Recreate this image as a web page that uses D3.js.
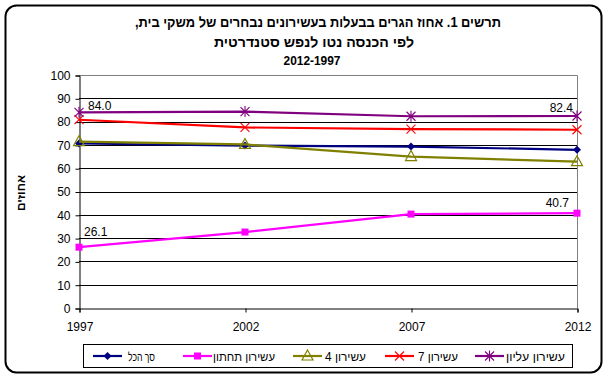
<!DOCTYPE html>
<html>
<head>
<meta charset="utf-8">
<script src="https://cdn.jsdelivr.net/npm/d3@7"></script>
<style>
  body { margin: 0; background: #fff; }
  svg { display: block; font-family: "Liberation Sans", Arial, "DejaVu Sans", sans-serif; }
</style>
</head>
<body>
<svg id="chart" width="609" height="381"></svg>
<script>
// נתונים - אחוז הגרים בבעלות
var years = [1997, 2002, 2007, 2012];
var seriesNames = ["סך הכל", "עשירון תחתון", "עשירון 4", "עשירון 7", "עשירון עליון"];
var total = [70.6, 69.7, 69.3, 67.9];
var bottomDecile = [26.1, 32.6, 40.3, 40.7];
var decile4 = [71.4, 70.2, 65.0, 62.8];
var decile7 = [80.8, 77.5, 76.8, 76.5];
var topDecile = [84.0, 84.3, 82.3, 82.4];
var yTicks = [0, 10, 20, 30, 40, 50, 60, 70, 80, 90, 100];
var titleLines = ["תרשים 1. אחוז הגרים בבעלות בעשירונים נבחרים של משקי בית,", "לפי הכנסה נטו לנפש סטנדרטית", "2012-1997"];
var yLabel = "אחוזים";

var seriesValues = [total, bottomDecile, decile4, decile7, topDecile];
var colors = ["#000080", "#ff00ff", "#808000", "#ff0000", "#800080"];
var markers = ["diamond", "square", "triangle", "x", "star"];

var svg = d3.select("#chart");

// מסגרת
svg.append("rect")
  .attr("x", 5.5).attr("y", 5.5)
  .attr("width", 596).attr("height", 367)
  .attr("rx", 11)
  .attr("fill", "#fff")
  .attr("stroke", "#000")
  .attr("stroke-width", 2);

// כותרת
var titleX = [318, 314, 312];
var titleY = [27, 47, 65];
var titleSize = [14, 14, 12];
var titleWidth = [366, 200, 57];
titleLines.forEach(function (t, i) {
  svg.append("text")
    .attr("x", titleX[i]).attr("y", titleY[i])
    .attr("direction", "rtl")
    .attr("text-anchor", "middle")
    .attr("font-weight", "bold")
    .attr("font-size", titleSize[i])
    .attr("textLength", titleWidth[i])
    .attr("lengthAdjust", "spacingAndGlyphs")
    .text(t);
});

var xScale = d3.scaleLinear().domain([1997, 2012]).range([79, 577]);
var yScale = d3.scaleLinear().domain([0, 100]).range([308, 75]);

// קווי רשת
svg.append("g")
  .selectAll("line")
  .data(yTicks.filter(function (d) { return d > 0 && d < 100; }))
  .join("line")
  .attr("x1", xScale(1997)).attr("x2", xScale(2012))
  .attr("y1", function (d) { return Math.round(yScale(d)) + 0.5; })
  .attr("y2", function (d) { return Math.round(yScale(d)) + 0.5; })
  .attr("stroke", "#000");

// גבול אזור השרטוט
svg.append("path")
  .attr("d", "M" + xScale(1997) + "," + (yScale(100) + 0.5) + "H" + (xScale(2012) + 0.5) + "V" + yScale(0))
  .attr("fill", "none")
  .attr("stroke", "#808080");

var yAxis = d3.axisLeft(yScale).tickValues(yTicks).tickSize(4).tickPadding(5);
var gy = svg.append("g")
  .attr("transform", "translate(" + (xScale(1997) + 0.5) + ",0.5)")
  .call(yAxis);

var xAxis = d3.axisBottom(xScale).tickValues(years).tickFormat(d3.format("d")).tickSize(4).tickPadding(10);
var gx = svg.append("g")
  .attr("transform", "translate(0.5," + (yScale(0) + 0.5) + ")")
  .call(xAxis);

[gx, gy].forEach(function (g) {
  g.select(".domain").attr("stroke", "#000");
  g.selectAll(".tick line").attr("stroke", "#000");
  g.selectAll(".tick text")
    .attr("font-size", 12)
    .attr("fill", "#000")
    .attr("font-family", "Liberation Sans, Arial, sans-serif");
});

svg.append("text")
  .attr("transform", "translate(25,193) rotate(-90)")
  .attr("text-anchor", "middle")
  .attr("font-weight", "bold")
  .attr("font-size", 11)
  .attr("textLength", 36)
  .attr("lengthAdjust", "spacingAndGlyphs")
  .text(yLabel);

function drawMarker(g, type, color, x, y) {
  if (type === "diamond") {
    g.append("path").attr("d", "M" + x + "," + (y - 4) + "L" + (x + 4) + "," + y + "L" + x + "," + (y + 4) + "L" + (x - 4) + "," + y + "Z")
      .attr("fill", color);
  } else if (type === "square") {
    g.append("rect").attr("x", x - 3.5).attr("y", y - 3.5).attr("width", 7).attr("height", 7).attr("fill", color);
  } else if (type === "triangle") {
    g.append("path").attr("d", "M" + x + "," + (y - 6) + "L" + (x + 5.5) + "," + (y + 4) + "L" + (x - 5.5) + "," + (y + 4) + "Z")
      .attr("fill", "none").attr("stroke", color).attr("stroke-width", 1.2);
  } else if (type === "x") {
    g.append("path").attr("d", "M" + (x - 4.5) + "," + (y - 4.5) + "L" + (x + 4.5) + "," + (y + 4.5) + "M" + (x - 4.5) + "," + (y + 4.5) + "L" + (x + 4.5) + "," + (y - 4.5))
      .attr("stroke", color).attr("stroke-width", 1.1);
  } else {
    g.append("path").attr("d", "M" + (x - 4.5) + "," + (y - 4.5) + "L" + (x + 4.5) + "," + (y + 4.5) + "M" + (x - 4.5) + "," + (y + 4.5) + "L" + (x + 4.5) + "," + (y - 4.5) + "M" + x + "," + (y - 5.5) + "L" + x + "," + (y + 5.5))
      .attr("stroke", color).attr("stroke-width", 1.1);
  }
}

var line = d3.line()
  .x(function (d) { return xScale(d[0]); })
  .y(function (d) { return yScale(d[1]); });

seriesValues.forEach(function (vals, i) {
  var pts = years.map(function (y, j) { return [y, vals[j]]; });
  var g = svg.append("g");
  g.append("path")
    .datum(pts)
    .attr("d", line)
    .attr("fill", "none")
    .attr("stroke", colors[i])
    .attr("stroke-width", 2.2);
  pts.forEach(function (p) {
    drawMarker(g, markers[i], colors[i], xScale(p[0]), yScale(p[1]));
  });
});

// תוויות נתונים
var dataLabels = [
  { s: 4, i: 0, anchor: "start", dx: 9, dy: -2 },
  { s: 4, i: 3, anchor: "end", dx: -4, dy: -4 },
  { s: 1, i: 0, anchor: "start", dx: 5, dy: -11 },
  { s: 1, i: 3, anchor: "end", dx: -8, dy: -6 }
];
svg.append("g")
  .selectAll("text")
  .data(dataLabels)
  .join("text")
  .attr("x", function (d) { return xScale(years[d.i]) + d.dx; })
  .attr("y", function (d) { return yScale(seriesValues[d.s][d.i]) + d.dy; })
  .attr("text-anchor", function (d) { return d.anchor; })
  .attr("font-size", 12)
  .text(function (d) { return d3.format(".1f")(seriesValues[d.s][d.i]); });

// מקרא
svg.append("rect")
  .attr("x", 83.5).attr("y", 344.5)
  .attr("width", 489).attr("height", 23)
  .attr("fill", "#fff")
  .attr("stroke", "#000");

var legendStart = [93, 183, 293, 385, 475];
var legendTextX = [128, 213, 325, 418, 506];
var legendTextW = [27, 62, 41, 40, 59];
seriesNames.forEach(function (name, i) {
  var g = svg.append("g");
  var cy = 356;
  var x0 = legendStart[i];
  g.append("line")
    .attr("x1", x0).attr("x2", x0 + 29)
    .attr("y1", cy).attr("y2", cy)
    .attr("stroke", colors[i]).attr("stroke-width", 2.2);
  drawMarker(g, markers[i], colors[i], x0 + 14.5, cy);
  g.append("text")
    .attr("x", legendTextX[i] + legendTextW[i]).attr("y", cy + 4.5)
    .attr("font-size", 12)
    .attr("direction", "rtl")
    .attr("text-anchor", "start")
    .attr("textLength", legendTextW[i])
    .attr("lengthAdjust", "spacingAndGlyphs")
    .text(name);
});
</script>
</body>
</html>
